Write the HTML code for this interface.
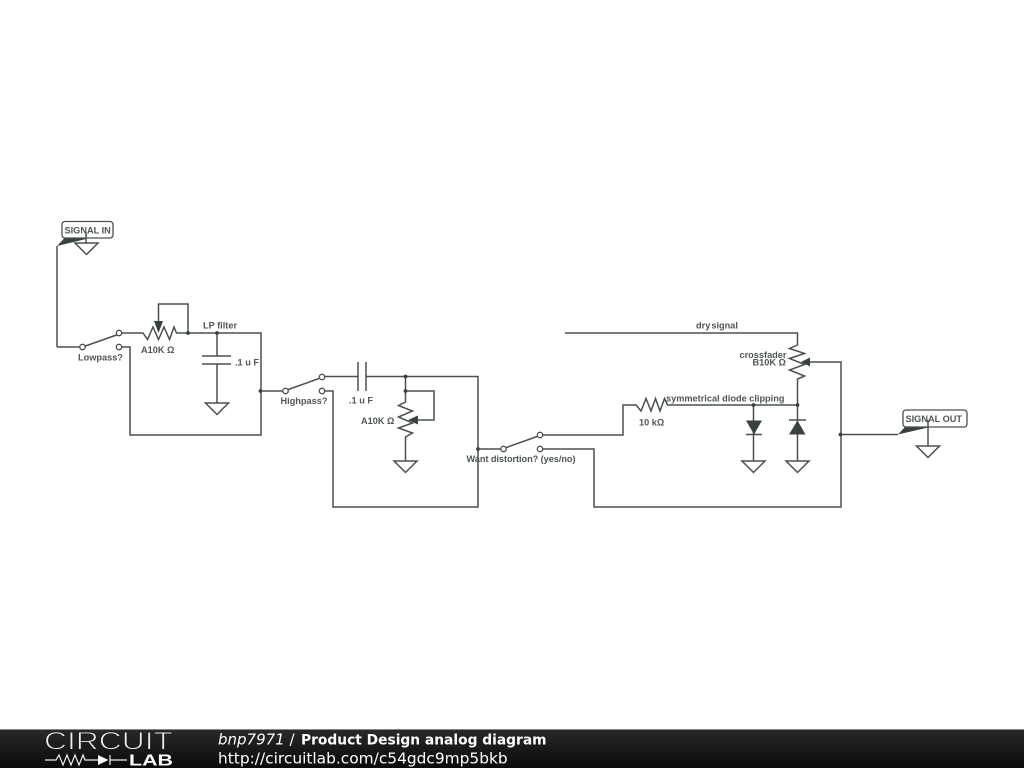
<!DOCTYPE html>
<html>
<head>
<meta charset="utf-8">
<style>
html,body{margin:0;padding:0;background:#fff;width:1024px;height:768px;overflow:hidden}
svg{display:block;position:absolute;left:0;top:0}
.w{fill:none;stroke:#4a5050;stroke-width:1.5}
.t{font-family:"Liberation Sans",sans-serif;font-size:9.2px;font-weight:700;fill:#4f5555}
.d{fill:#394040}
.o{fill:#fff;stroke:#4a5050;stroke-width:1.3}
.dia{filter:blur(.35px)}
</style>
</head>
<body>
<svg width="1024" height="768" viewBox="0 0 1024 768" xmlns="http://www.w3.org/2000/svg">
<defs>
<linearGradient id="g" x1="0" y1="0" x2="0" y2="1"><stop offset="0" stop-color="#2a2a2a"/><stop offset=".55" stop-color="#181818"/><stop offset="1" stop-color="#0a0a0a"/></linearGradient>
</defs>

<g class="dia">
<!-- SIGNAL IN -->
<path class="w" d="M57 347V246"/>
<path class="d" d="M57 246L64 238.500H86L86 239Z"/>
<rect x="62" y="221.500" width="51" height="16.500" rx="3" fill="#fff" stroke="#4a5050" stroke-width="1.300"/>
<text class="t" x="64.500" y="233.500">SIGNAL IN</text>
<path class="w" d="M86 232V243M75 243H98L86.500 254.500Z"/>

<!-- Lowpass stage -->
<path class="w" d="M57 347H83M84 346.500L118 334.500M122 333H143L147.500 339.500L153 327L158.500 339.500L164 327L169.500 339.500L174 327L176.500 333H261V435H130V347H122M158.500 325V304H188V333M217 333V356M202 356H231M202 364H231M217 364V403M205.500 403H228.500L217 414.500Z"/>
<path class="d" d="M154 321H163L158.500 333Z"/>
<circle class="o" cx="82.500" cy="347" r="2.700"/>
<circle class="o" cx="119" cy="333" r="2.700"/>
<circle class="o" cx="119" cy="347" r="2.700"/>
<circle class="d" cx="188" cy="333" r="1.900"/>
<circle class="d" cx="217" cy="333" r="1.900"/>
<circle class="d" cx="260.500" cy="391" r="1.900"/>

<!-- Highpass stage -->
<path class="w" d="M261 391H284M287 390L319 378.500M324 376.500H358M358 362V391M366 362V391M366 376.500H478V507H333V391H325M405.500 376.500V402L398.500 405.500L412.500 411L398.500 417L412.500 423L398.500 428L412.500 433L405.500 437V461M405.500 391H434V420H416M394 461H417L405.500 472.500Z"/>
<path class="d" d="M418 415.500V424.500L408 420Z"/>
<circle class="o" cx="285.500" cy="391" r="2.700"/>
<circle class="o" cx="322" cy="377" r="2.700"/>
<circle class="o" cx="322" cy="391" r="2.700"/>
<circle class="d" cx="405.500" cy="376.500" r="1.900"/>
<circle class="d" cx="405.500" cy="391" r="1.900"/>
<circle class="d" cx="478" cy="449" r="1.900"/>

<!-- Distortion stage -->
<path class="w" d="M478 449H502M505 448L537 436.500M542 435H623V405H636L641 411L646 398.500L651 411L655.500 398.500L660 411L664.500 398.500L667.500 405H797M542 449H594V507H841V362H808M565 333H797.500V345L789.500 348.500L804.500 353.500L789.500 358.500L804.500 364.500L789.500 370L804.500 376L797.500 379V405M753.500 405V461M742 461H765L753.500 472.500ZM746 434.500H762M789 420H806M797.500 405V461M786 461H809L797.500 472.500Z"/>
<path class="d" d="M746 420.500H762L754 434.500Z"/>
<path class="d" d="M789 434.500H805.500L797.500 420.500Z"/>
<path class="d" d="M810 357.500V366.500L801 362Z"/>
<circle class="o" cx="503.500" cy="449" r="2.700"/>
<circle class="o" cx="540" cy="435" r="2.700"/>
<circle class="o" cx="540" cy="449" r="2.700"/>
<circle class="d" cx="753.500" cy="405" r="1.900"/>
<circle class="d" cx="797.500" cy="405" r="1.900"/>
<circle class="d" cx="840.500" cy="434.500" r="1.900"/>

<!-- SIGNAL OUT -->
<path class="w" d="M841 434.500H898"/>
<path class="d" d="M898 434.500L905 427H928L928 427.500Z"/>
<rect x="903" y="410" width="64" height="17" rx="3" fill="#fff" stroke="#4a5050" stroke-width="1.300"/>
<text class="t" x="905.500" y="422">SIGNAL OUT</text>
<path class="w" d="M928 420V446M916.500 446H939.500L928 457.500Z"/>

<!-- Labels -->
<text class="t" x="78" y="360.500">Lowpass?</text>
<text class="t" x="141" y="353">A10K Ω</text>
<text class="t" x="203" y="328.500">LP filter</text>
<text class="t" x="235" y="365.500">.1 u F</text>
<text class="t" x="280.500" y="404">Highpass?</text>
<text class="t" x="349" y="403.500">.1 u F</text>
<text class="t" x="361" y="424">A10K Ω</text>
<text class="t" x="466.500" y="462" textLength="109">Want distortion? (yes/no)</text>
<text class="t" x="639" y="425.500">10 kΩ</text>
<text class="t" x="666" y="401.500">symmetrical diode clipping</text>
<text class="t" x="696" y="328.500" word-spacing="-1.500">dry signal</text>
<text class="t" x="739.500" y="358">crossfader</text>
<text class="t" x="752.500" y="365.500">B10K Ω</text>
</g>

<!-- Footer -->
<rect x="0" y="729" width="1024" height="39" fill="url(#g)"/>
<rect x="0" y="729" width="1024" height="1" fill="#888"/>
<text x="44" y="749.500" font-family="'Liberation Sans',sans-serif" font-size="25" fill="#eee" stroke="#1c1c1c" stroke-width=".9" textLength="129" lengthAdjust="spacingAndGlyphs">CIRCUIT</text>
<path fill="none" stroke="#eee" stroke-width="1.200" d="M45 760H56L59 755L63 765L67 755L71 765L75 755L79 765L83 755L85 760H98M110 755V765M110 760H127"/>
<path fill="#fff" d="M98 755L108.500 760L98 765Z"/>
<text x="129" y="765.500" font-family="'Liberation Sans',sans-serif" font-size="15.500" font-weight="700" fill="#fff" textLength="44" lengthAdjust="spacingAndGlyphs">LAB</text>
<text x="218" y="744.500" font-family="'DejaVu Sans',sans-serif" font-size="15" fill="#fff"><tspan font-style="italic">bnp7971</tspan> /</text>
<text x="301" y="744.500" font-family="'DejaVu Sans',sans-serif" font-size="13.800" font-weight="700" fill="#fff">Product Design analog diagram</text>
<text x="218" y="763.500" font-family="'DejaVu Sans',sans-serif" font-size="15.400" fill="#fff">http://circuitlab.com/c54gdc9mp5bkb</text>
</svg>
</body>
</html>
